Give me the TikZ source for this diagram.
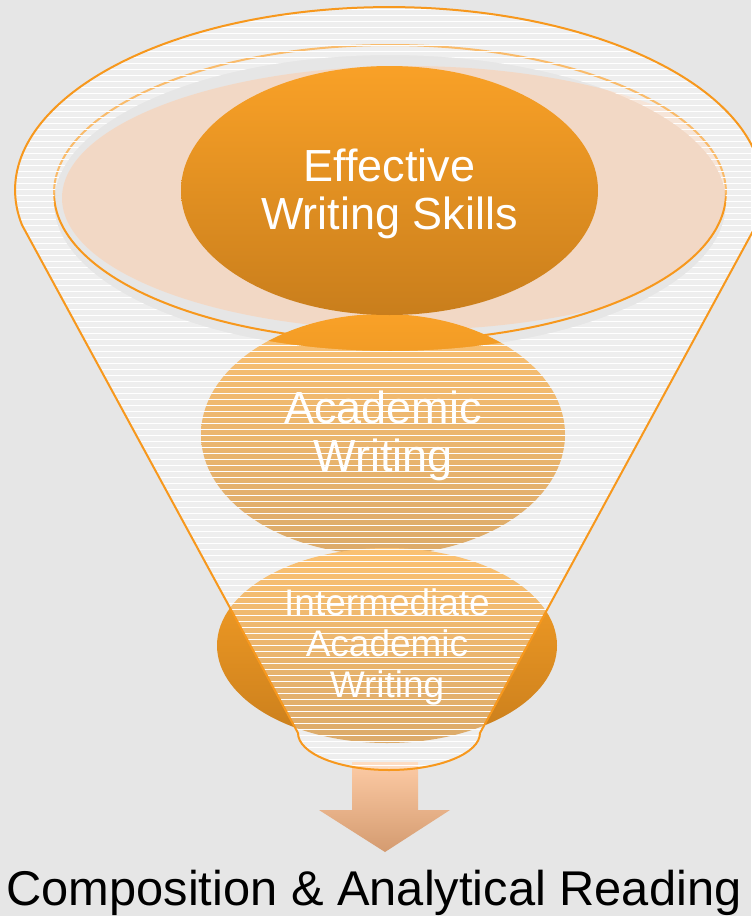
\documentclass[tikz,border=0pt]{standalone}
\usepackage{fontspec}
\setmainfont{Liberation Sans}
\usetikzlibrary{patterns}
\definecolor{paper}{HTML}{E6E6E6}
\definecolor{rim}{HTML}{F7981D}
\definecolor{ambertop}{HTML}{F9A127}
\definecolor{amberbot}{HTML}{C97E1C}
\definecolor{peach}{HTML}{F8D3B8}
\definecolor{arrowtop}{HTML}{FDCBA5}
\definecolor{arrowbot}{HTML}{D49B70}
\begin{document}
\begin{tikzpicture}[x=0.5pt,y=-0.5pt,
	rim line/.style={draw=rim, line width=1pt},
	blob/.style={top color=ambertop, bottom color=amberbot},
	lbl/.style={text=white, align=center, font=\fontsize{22.5}{24}\selectfont},
	smalllbl/.style={lbl, font=\fontsize{18.5}{20.5}\selectfont}]
	\useasboundingbox (0,0) rectangle (751,916);
	\fill[paper] (0,0) rectangle (751,916);
	\def\funnelpath{(298,733) -- (22,225) arc[start angle=169, end angle=371, x radius=374, y radius=183] -- (480,733) arc[start angle=0, end angle=180, x radius=91, y radius=37] -- cycle}
	% arrow under the funnel
	\shade[top color=arrowtop, bottom color=arrowbot] (352,762) -- (418,762) -- (418,810) -- (450,810) -- (385,852) -- (319,810) -- (352,810) -- cycle;
	% rim
	\begin{scope}
		\clip (390,193) ellipse [x radius=336, y radius=148];
		\fill[peach, opacity=0.7] (408,198) ellipse [x radius=346, y radius=132];
	\end{scope}
	\draw[rim line] (390,193) ellipse [x radius=336, y radius=148];
	\shade[blob] (383,434.5) ellipse [x radius=182, y radius=120.5];
	\shade[blob] (387,645.5) ellipse [x radius=170, y radius=97.5];
	% glass
	\begin{scope}
		\clip \funnelpath;
		\fill[white, fill opacity=0.35, even odd rule] (0,0) rectangle (751,916) (390,203) ellipse [x radius=336, y radius=148];
		\fill[pattern=horizontal lines, pattern color=white, even odd rule] (0,0) rectangle (751,916) (390,203) ellipse [x radius=336, y radius=148];
	\end{scope}
	\shade[blob] (389.5,190.5) ellipse [x radius=208.5, y radius=124.5];
	\draw[rim line] \funnelpath;
	\node[lbl] (effective) at (389.5,194) {Effective\\Writing Skills};
	\node[lbl] (academic) at (383,436) {Academic\\Writing};
	\node[smalllbl] (intermediate) at (387,646.5) {Intermediate\\Academic\\Writing};
	\node[anchor=base west, inner sep=0pt, font=\fontsize{24.4}{30}\selectfont] (course) at (6,905) {Composition \& Analytical Reading};
\end{tikzpicture}
\end{document}
